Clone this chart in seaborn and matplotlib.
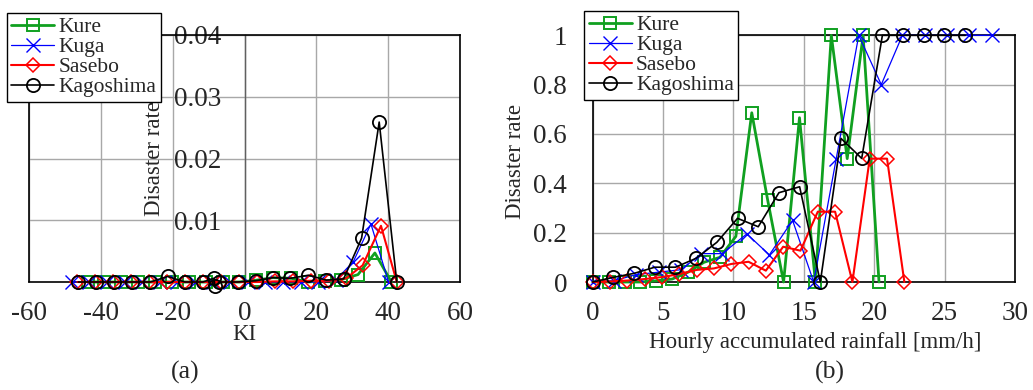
import numpy as np
import pandas as pd
import matplotlib
matplotlib.use("Agg")
import matplotlib.pyplot as plt
import seaborn as sns
from matplotlib.lines import Line2D

# ---------------- data ----------------
series_names = ["Kure", "Kuga", "Sasebo", "Kagoshima"]

# (a) KI
ki_kure_x = [-43.7, -39.0, -34.3, -29.6, -24.9, -20.2, -15.5, -10.8, -6.1, -1.4, 3.3, 7.9, 13.0, 17.7, 22.3, 27.0, 31.6, 36.3, 40.9]
ki_kure_y = [0, 0, 0, 0, 0, 0, 0, 0, 0, 0, 0.0003, 0.0007, 0.0006, 0, 0.0002, 0.0004, 0.0012, 0.0047, 0]
ki_kuga_x = [-48.1, -43.2, -38.3, -33.4, -28.5, -23.6, -18.7, -13.8, -8.9, -4.0, 0.9, 5.8, 10.7, 15.6, 20.5, 25.4, 30.3, 35.2, 40.1]
ki_kuga_y = [0, 0, 0, 0, 0, 0, 0, 0, 0, 0, 0, 0, 0, 0, 0, 0.0003, 0.0033, 0.0094, 0]
ki_sasebo_x = [-46.5, -41.5, -36.5, -31.5, -26.5, -21.5, -16.5, -11.5, -6.5, -1.5, 3.5, 8.5, 13.5, 18.5, 23.5, 28.3, 32.9, 38.0, 42.4]
ki_sasebo_y = [0, 0, 0, 0, 0, 0, 0, 0, 0, 0, 0, 0.0001, 0.0001, 0.0002, 0.0002, 0.0006, 0.0027, 0.0091, 0]
ki_kago_x = [-46.3, -41.3, -36.2, -31.2, -26.2, -21.4, -16.6, -11.6, -8.5, -8.2, -7.0, -1.9, 3.1, 7.9, 12.8, 17.8, 22.8, 27.6, 32.6, 37.5, 42.4]
ki_kago_y = [0, 0, 0, 0, 0, 0.0009, 0, 0, 0.0006, -0.0007, 0, 0, 0.0002, 0.0007, 0.0006, 0.0011, 0.0003, 0.0005, 0.0071, 0.0259, 0]

# (b) hourly accumulated rainfall
rf_kure_x = [0, 1.13, 2.26, 3.39, 4.52, 5.65, 6.78, 7.91, 9.04, 10.17, 11.3, 12.43, 13.56, 14.69, 15.82, 16.95, 18.08, 19.21, 20.34]
rf_kure_y = [0, 0, 0, 0, 0.005, 0.012, 0.04, 0.08, 0.1, 0.185, 0.686, 0.332, 0, 0.666, 0, 1, 0.5, 1, 0]
rf_kuga_x = [0, 1.5, 3.1, 4.7, 6.3, 7.7, 9.2, 10.95, 12.55, 14.2, 15.7, 17.3, 18.9, 20.5, 22.0, 23.6, 25.2, 26.75, 28.35]
rf_kuga_y = [0, 0.005, 0.03, 0.04, 0.05, 0.115, 0.115, 0.195, 0.11, 0.25, 0, 0.5, 1, 0.8, 1, 1, 1, 1, 1]
rf_sasebo_x = [0, 1.23, 2.46, 3.69, 4.92, 6.15, 7.38, 8.61, 9.84, 11.07, 12.3, 13.53, 14.76, 15.99, 17.22, 18.45, 19.68, 20.91, 22.14]
rf_sasebo_y = [0, 0.002, 0.006, 0.012, 0.02, 0.032, 0.049, 0.055, 0.073, 0.082, 0.046, 0.143, 0.127, 0.285, 0.285, 0, 0.5, 0.5, 0]
rf_kago_x = [0, 1.47, 2.94, 4.41, 5.88, 7.35, 8.82, 10.29, 11.76, 13.23, 14.7, 16.17, 17.64, 19.11, 20.58, 22.05, 23.52, 24.99, 26.46]
rf_kago_y = [0, 0.019, 0.035, 0.06, 0.06, 0.096, 0.161, 0.258, 0.224, 0.362, 0.386, 0, 0.582, 0.501, 1, 1, 1, 1, 1]

ki_xticks = [-60, -40, -20, 0, 20, 40, 60]
ki_yticks = [0.01, 0.02, 0.03, 0.04]
ki_ytick_labels = ["0.01", "0.02", "0.03", "0.04"]
rf_xticks = [0, 5, 10, 15, 20, 25, 30]
rf_yticks = [0, 0.2, 0.4, 0.6, 0.8, 1]
rf_ytick_labels = ["0", "0.2", "0.4", "0.6", "0.8", "1"]

# ---------------- style ----------------
sns.set_style("white")
plt.rcParams["font.family"] = ["Liberation Serif", "DejaVu Serif"]
plt.rcParams["axes.unicode_minus"] = False

styles = {
    "Kure": dict(color="#10a020", marker="s", lw=2.0, ms=8.5, mew=1.4),
    "Kuga": dict(color="#0000ff", marker="x", lw=0.9, ms=9.5, mew=1.0),
    "Sasebo": dict(color="#ff0000", marker="D", lw=1.5, ms=7.0, mew=1.1),
    "Kagoshima": dict(color="#000000", marker="o", lw=1.2, ms=9.5, mew=1.3),
}

def long_frame(xs, ys):
    rows = []
    for name, x, y in zip(series_names, xs, ys):
        rows.append(pd.DataFrame({"x": x, "y": y, "series": name}))
    return pd.concat(rows, ignore_index=True)

df_ki = long_frame([ki_kure_x, ki_kuga_x, ki_sasebo_x, ki_kago_x],
                   [ki_kure_y, ki_kuga_y, ki_sasebo_y, ki_kago_y])
df_rf = long_frame([rf_kure_x, rf_kuga_x, rf_sasebo_x, rf_kago_x],
                   [rf_kure_y, rf_kuga_y, rf_sasebo_y, rf_kago_y])

W, H = 1033, 390
fig = plt.figure(figsize=(W / 100, H / 100), dpi=100)

def frac_axes(x0, x1, ytop, ybot):
    return fig.add_axes([x0 / W, 1 - ybot / H, (x1 - x0) / W, (ybot - ytop) / H])

ax1 = frac_axes(29, 460, 35, 282)
ax2 = frac_axes(592.7, 1015, 35.3, 282)

TICK_FS = 19.5
LABEL_FS = 16.5
LEG_FS = 15.5
GRID_C = "#a8a8a8"

def draw(ax, df):
    for name in series_names:
        st = styles[name]
        sub = df[df["series"] == name]
        sns.lineplot(data=sub, x="x", y="y", ax=ax, estimator=None, sort=False,
                     color=st["color"], marker=st["marker"], linewidth=st["lw"],
                     markersize=st["ms"], markeredgewidth=st["mew"],
                     markerfacecolor="none", markeredgecolor=st["color"],
                     label=name, clip_on=False, zorder=3, legend=False)

draw(ax1, df_ki)
draw(ax2, df_rf)

# ---- panel (a) ----
ax1.set_xlim(-60, 60)
ax1.set_ylim(0, 0.04)
ax1.set_xticks(ki_xticks)
ax1.set_xticklabels([str(v) for v in ki_xticks])
ax1.set_yticks(ki_yticks)
ax1.set_yticklabels(ki_ytick_labels)
ax1.spines["left"].set_position(("data", 0))
ax1.spines["left"].set_color("#606060")
ax1.spines["left"].set_linewidth(1.0)
ax1.spines["left"].set_zorder(1)
for s in ["top", "right", "bottom"]:
    ax1.spines[s].set_color("black")
    ax1.spines[s].set_linewidth(1.2)
ax1.plot([0, 0], [0, 1], transform=ax1.transAxes, color="black", lw=1.2, clip_on=False, zorder=2)
ax1.tick_params(axis="y", length=0, pad=16.5, labelsize=TICK_FS)
ax1.tick_params(axis="x", length=0, pad=14, labelsize=TICK_FS)
ax1.grid(True, color=GRID_C, lw=1.0)
ax1.set_axisbelow(True)
ax1.set_xlabel("KI", fontsize=LABEL_FS)
ax1.xaxis.set_label_coords(0.5, -0.172)
ax1.set_ylabel("Disaster rate", fontsize=LABEL_FS)
ax1.yaxis.set_label_coords(0.315, 0.50)

# ---- panel (b) ----
ax2.set_xlim(0, 30)
ax2.set_ylim(0, 1)
ax2.set_xticks(rf_xticks)
ax2.set_xticklabels([str(v) for v in rf_xticks])
ax2.set_yticks(rf_yticks)
ax2.set_yticklabels(rf_ytick_labels)
for s in ["top", "right", "bottom", "left"]:
    ax2.spines[s].set_color("black")
    ax2.spines[s].set_linewidth(1.2)
ax2.tick_params(axis="y", length=0, pad=18.5, labelsize=TICK_FS)
ax2.tick_params(axis="x", length=0, pad=14, labelsize=TICK_FS)
ax2.grid(True, color=GRID_C, lw=1.0)
ax2.set_axisbelow(True)
ax2.set_xlabel("Hourly accumulated rainfall [mm/h]", fontsize=LABEL_FS)
ax2.xaxis.set_label_coords(0.528, -0.203)
ax2.set_ylabel("Disaster rate", fontsize=LABEL_FS)
ax2.yaxis.set_label_coords(-0.158, 0.49)

# ---- legends ----
def handles():
    hs = []
    for name in series_names:
        st = styles[name]
        hs.append(Line2D([], [], color=st["color"], marker=st["marker"], lw=st["lw"],
                         ms=st["ms"], mew=st["mew"], mfc="none", mec=st["color"]))
    return hs

for ax, anchor in [(ax1, (6.7 / W, 1 - 12.7 / H)), (ax2, (584.3 / W, 1 - 10.7 / H))]:
    leg = ax.legend(handles(), series_names, loc="upper left", bbox_to_anchor=anchor,
                    bbox_transform=fig.transFigure, fontsize=LEG_FS, frameon=True,
                    fancybox=False, framealpha=1.0, edgecolor="black", borderpad=0.2,
                    labelspacing=0.0, handlelength=2.0, handletextpad=0.2,
                    borderaxespad=0, numpoints=1)
    leg.get_frame().set_linewidth(1.0)
    leg.set_zorder(10)

fig.text(185 / W, 1 - 372 / H, "(a)", fontsize=18.5, ha="center", va="center")
fig.text(830 / W, 1 - 372 / H, "(b)", fontsize=18.5, ha="center", va="center")

fig.savefig("out.png", dpi=100)
